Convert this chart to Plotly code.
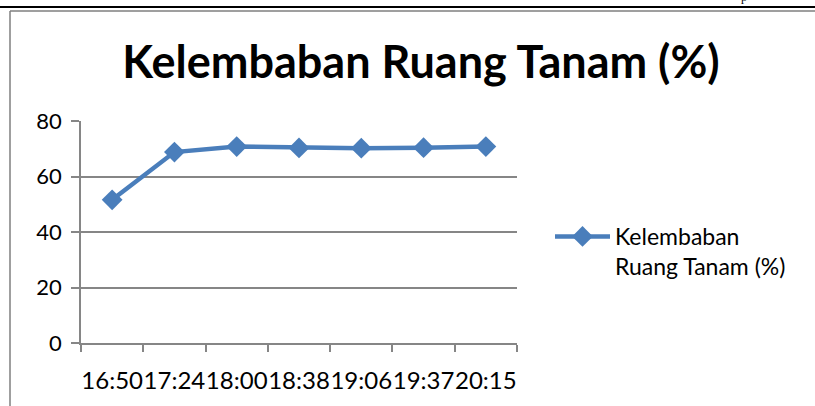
import plotly.graph_objects as go

# data
times = ["16:50", "17:24", "18:00", "18:38", "19:06", "19:37", "20:15"]
humidity = [51.6, 68.8, 70.8, 70.3, 70.2, 70.4, 70.8]
series_name = "Kelembaban<br>Ruang Tanam (%)"
title_text = "Kelembaban Ruang Tanam (%)"

W, H = 815, 406
# plot area in pixels
L, R, T, B = 81, 517, 121, 343
BLUE = "#4A7EBB"
GRID = "#868686"
FONT = "Lato"


def px_x(x):
    return (x - L) / (R - L)


def px_y(y):
    return (B - y) / (B - T)


fig = go.Figure()
fig.add_trace(go.Scatter(
    x=times,
    y=humidity,
    name=series_name,
    mode="lines+markers",
    line=dict(color=BLUE, width=4.5),
    marker=dict(symbol="diamond", size=16, color=BLUE),
    showlegend=True,
))

fig.update_layout(
    width=W,
    height=H,
    margin=dict(l=L, r=W - R, t=T, b=H - B),
    paper_bgcolor="white",
    plot_bgcolor="white",
    font=dict(family=FONT, color="black", size=22),
    title=dict(
        text="<b>" + title_text + "</b>",
        x=(421 / W), xanchor="center",
        y=1 - 62 / H, yanchor="middle",
        font=dict(family=FONT, size=45, color="black"),
    ),
    legend=dict(
        x=px_x(550), xanchor="left",
        y=px_y(215), yanchor="top",
        valign="top",
        itemwidth=55,
        font=dict(family=FONT, size=23),
        bgcolor="rgba(0,0,0,0)",
    ),
    showlegend=True,
)

fig.update_xaxes(
    type="category",
    range=[-0.5, len(times) - 0.5],
    showline=True, linecolor=GRID, linewidth=1.5,
    ticks="outside", tickson="boundaries", ticklen=7, tickcolor=GRID, tickwidth=1.5,
    showgrid=False,
    tickangle=0,
    tickfont=dict(family=FONT, size=24),
    ticklabelstandoff=15,
)
fig.update_yaxes(
    range=[0, 80], dtick=20,
    showline=True, linecolor=GRID, linewidth=1.5,
    ticks="outside", ticklen=8, tickcolor=GRID, tickwidth=1.5,
    showgrid=True, gridcolor=GRID, gridwidth=1.5,
    zeroline=False,
    tickfont=dict(family=FONT, size=22),
    ticklabelstandoff=5,
)

# page/frame decoration from the document the chart sits in
fig.add_shape(type="line", xref="paper", yref="paper",
              x0=px_x(0), x1=px_x(W), y0=px_y(7), y1=px_y(7),
              line=dict(color="black", width=2))
fig.add_shape(type="line", xref="paper", yref="paper",
              x0=px_x(10), x1=px_x(W), y0=px_y(11), y1=px_y(11),
              line=dict(color="#7f7f7f", width=1.5))
fig.add_shape(type="line", xref="paper", yref="paper",
              x0=px_x(10), x1=px_x(10), y0=px_y(11), y1=px_y(H),
              line=dict(color="#7f7f7f", width=1.5))
fig.add_annotation(text="p", xref="paper", yref="paper",
                   x=px_x(744), y=px_y(6), xanchor="center", yanchor="bottom",
                   showarrow=False, font=dict(family="Liberation Serif", size=12))

# the page is photographed from its top-left corner, so drop the body margin
fig.write_html(
    "out.html",
    config={"displayModeBar": False},
    post_script="document.body.style.margin='0';",
)
